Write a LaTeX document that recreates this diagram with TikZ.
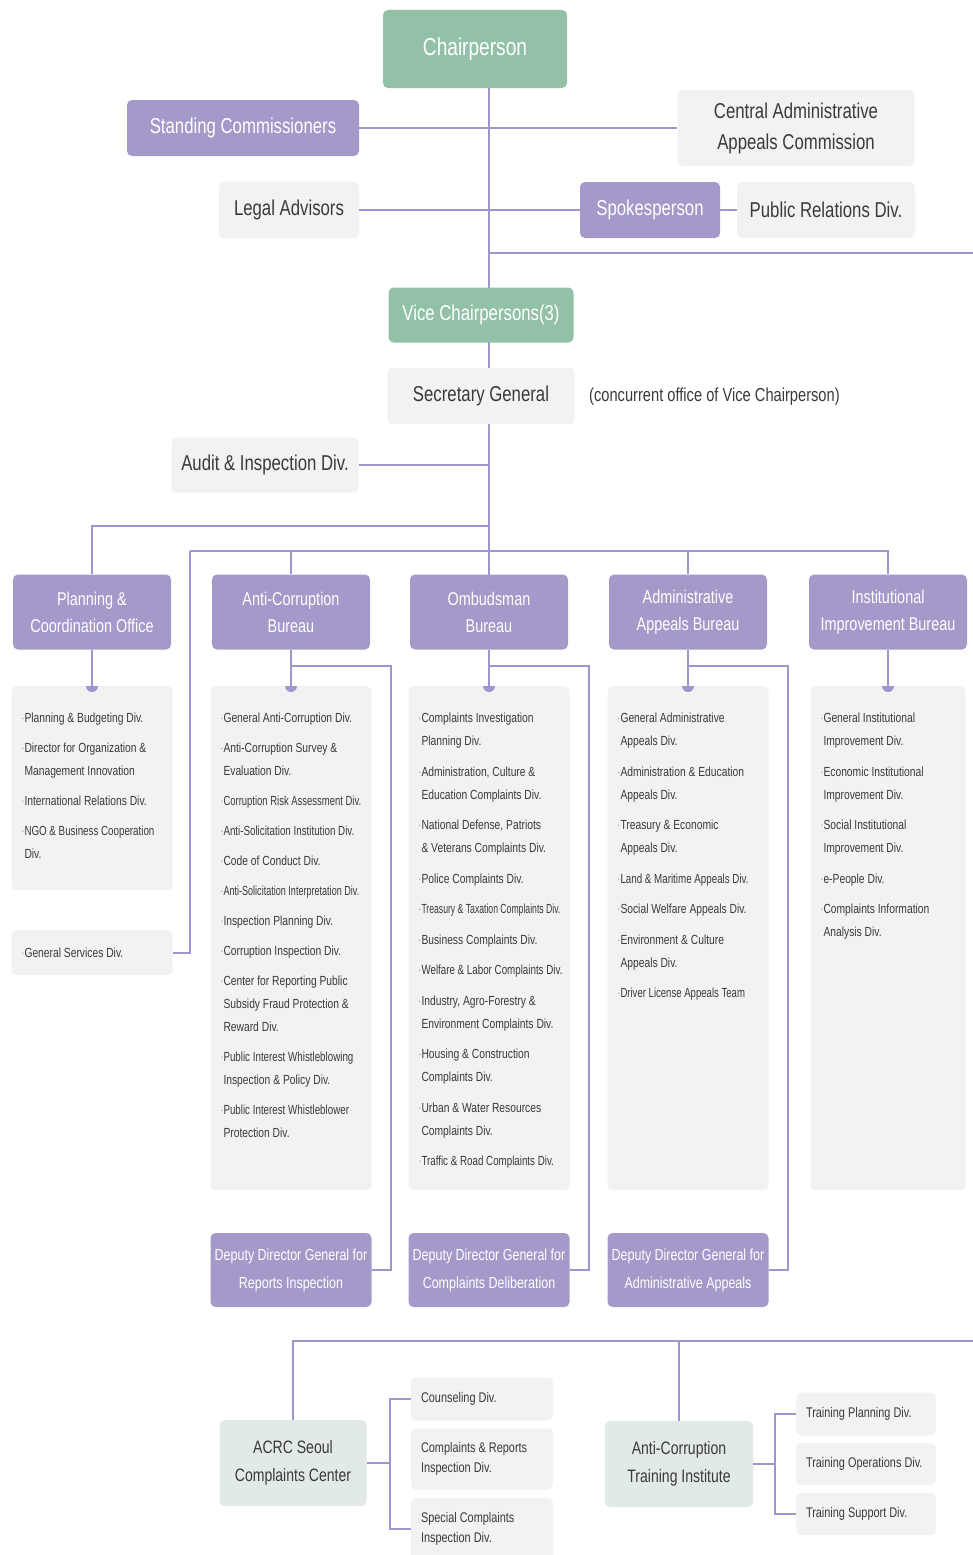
\documentclass[tikz,border=0pt]{standalone}
\usepackage{fontspec}
\setmainfont{Liberation Sans}[FakeStretch=0.78]
\usepackage{xcolor}
\usepackage{tikz}
\usetikzlibrary{positioning}
\definecolor{acrcpurple}{RGB}{164,153,201}
\definecolor{acrcgreen}{RGB}{147,193,167}
\definecolor{acrcpale}{RGB}{225,234,228}
\definecolor{acrcgrey}{RGB}{242,242,242}
\definecolor{acrcline}{RGB}{160,150,205}
\definecolor{acrctext}{RGB}{58,58,58}
\newcommand{\divdot}{\llap{\textcolor{acrcline}{\textperiodcentered}}}
\newcommand{\squeeze}[2]{\scalebox{#1}[1]{#2}}

\begin{document}
\begin{tikzpicture}[x=1pt, y=1pt,
    box/.style={rectangle, rounded corners=5pt, inner sep=0pt, align=center},
    topbox/.style={box, fill=acrcgreen, text=white},
    headbox/.style={box, fill=acrcpurple, text=white},
    greybox/.style={box, fill=acrcgrey, text=acrctext},
    palebox/.style={box, fill=acrcpale, text=acrctext},
    subbox/.style={greybox, align=flush left, font=\fontsize{14}{20}\selectfont},
    listtext/.style={anchor=north west, inner sep=0pt, align=left, text=acrctext,
        font=\fontsize{13.2}{23}\selectfont},
    conn/.style={draw=acrcline, line width=1.6pt},
    bigfont/.style={font=\fontsize{21.5}{31}\selectfont},
]
    \useasboundingbox[fill=white] (0,0) rectangle (973,-1555);

    % Trunk from the chairperson down to the bureaus
    \coordinate (trunk) at (489,-88);
    \coordinate (split1) at (489,-526);
    \coordinate (split2) at (190,-551);
    \coordinate (rtop) at (973,-253);
    \coordinate (rbot) at (973,-1341);

    % Top level
    \node[topbox, minimum width=184, minimum height=78, font=\fontsize{24.5}{28}\selectfont] (chair) at (475,-49) {Chairperson};
    \node[headbox, bigfont, minimum width=232, minimum height=56] (stand) at (243,-128) {Standing Commissioners};
    \node[greybox, bigfont, minimum width=237, minimum height=76] (caac) at (796,-128) {Central Administrative\\Appeals Commission};
    \node[greybox, bigfont, minimum width=140, minimum height=57] (legal) at (289,-210) {Legal Advisors};
    \node[headbox, bigfont, minimum width=140, minimum height=56] (spoke) at (650,-210) {Spokesperson};
    \node[greybox, bigfont, minimum width=178, minimum height=56] (pr) at (826,-210) {Public Relations Div.};

    \draw[conn] (trunk) -- (split1) -- (trunk |- split2) -- (489,-575);
    \draw[conn] (stand.east) -- (caac.west);
    \draw[conn] (legal.east) -- (spoke.west);
    \draw[conn] (spoke.east) -- (pr.west);
    \draw[conn] (trunk |- rtop) -- (rtop);

    % Vice chairpersons and secretary general
    \node[topbox, bigfont, minimum width=185, minimum height=55] (vice) at (481,-315) {Vice Chairpersons(3)};
    \node[greybox, bigfont, minimum width=187, minimum height=56] (secgen) at (481,-396) {Secretary General};
    \node[anchor=west, inner sep=0pt, text=acrctext, font=\fontsize{18.8}{22}\selectfont] (concur) at (589,-397) {(concurrent office of Vice Chairperson)};
    \node[greybox, bigfont, minimum width=187, minimum height=55] (audit) at (265,-465) {Audit \& Inspection Div.};
    \draw[conn] (audit.east) -- (audit.east -| trunk);

    % Bureaus
    \foreach \bx/\bn/\bt in {92/pco/{Planning \&\\Coordination Office},
                             291/acb/{Anti-Corruption\\Bureau},
                             489/omb/{Ombudsman\\Bureau},
                             688/aab/{Administrative\\Appeals Bureau},
                             888/iib/{Institutional\\Improvement Bureau}} {
        \node[headbox, minimum width=158, minimum height=75, font=\fontsize{18.5}{27}\selectfont] (\bn) at (\bx,-612) {\bt};
    }
    \draw[conn] (split1) -| (pco.north);
    \draw[conn] (split2) -| (iib.north);
    \draw[conn] (acb.north) -- (acb.north |- split2);
    \draw[conn] (aab.north) -- (aab.north |- split2);

    % Division lists
    \node[greybox, minimum width=161, minimum height=204, anchor=north] (pco-l) at (92,-686) {};
    \node[greybox, minimum width=161, minimum height=504, anchor=north] (acb-l) at (291,-686) {};
    \node[greybox, minimum width=161, minimum height=504, anchor=north] (omb-l) at (489,-686) {};
    \node[greybox, minimum width=161, minimum height=504, anchor=north] (aab-l) at (688,-686) {};
    \node[greybox, minimum width=155, minimum height=504, anchor=north] (iib-l) at (888,-686) {};
    \node[greybox, minimum width=161, minimum height=45, anchor=north] (gsd) at (92,-930) {};
    \draw[conn] (split2) |- (gsd.east);

    \foreach \b in {pco,acb,omb,aab,iib} {
        \draw[conn] (\b.south) -- (\b-l.north);
        \fill[acrcline] ([xshift=-6]\b-l.north) arc[start angle=180, end angle=360, radius=6];
    }

    \node[listtext] (pco-t) at ([xshift=13,yshift=-27]pco-l.north west) {%
        \divdot Planning \& Budgeting Div.\\[7pt]
        \divdot Director for Organization \&\\Management Innovation\\[7pt]
        \divdot International Relations Div.\\[7pt]
        \divdot \squeeze{0.95}{NGO \& Business Cooperation}\\Div.};
    \node[listtext] (gsd-t) at ([xshift=13]gsd.west) [anchor=west] {\divdot General Services Div.};
    \node[listtext] (acb-t) at ([xshift=13,yshift=-27]acb-l.north west) {%
        \divdot General Anti-Corruption Div.\\[7pt]
        \divdot Anti-Corruption Survey \&\\Evaluation Div.\\[7pt]
        \divdot \squeeze{0.92}{Corruption Risk Assessment Div.}\\[7pt]
        \divdot \squeeze{0.95}{Anti-Solicitation Institution Div.}\\[7pt]
        \divdot Code of Conduct Div.\\[7pt]
        \divdot \squeeze{0.88}{Anti-Solicitation Interpretation Div.}\\[7pt]
        \divdot Inspection Planning Div.\\[7pt]
        \divdot Corruption Inspection Div.\\[7pt]
        \divdot Center for Reporting Public\\Subsidy Fraud Protection \&\\Reward Div.\\[7pt]
        \divdot \squeeze{0.95}{Public Interest Whistleblowing}\\Inspection \& Policy Div.\\[7pt]
        \divdot \squeeze{0.95}{Public Interest Whistleblower}\\Protection Div.};
    \node[listtext] (omb-t) at ([xshift=13,yshift=-27]omb-l.north west) {%
        \divdot Complaints Investigation\\Planning Div.\\[7.5pt]
        \divdot Administration, Culture \&\\Education Complaints Div.\\[7.5pt]
        \divdot National Defense, Patriots\\\& Veterans Complaints Div.\\[7.5pt]
        \divdot Police Complaints Div.\\[7.5pt]
        \divdot \squeeze{0.84}{Treasury \& Taxation Complaints Div.}\\[7.5pt]
        \divdot Business Complaints Div.\\[7.5pt]
        \divdot \squeeze{0.95}{Welfare \& Labor Complaints Div.}\\[7.5pt]
        \divdot Industry, Agro-Forestry \&\\Environment Complaints Div.\\[7.5pt]
        \divdot Housing \& Construction\\Complaints Div.\\[7.5pt]
        \divdot Urban \& Water Resources\\Complaints Div.\\[7.5pt]
        \divdot \squeeze{0.95}{Traffic \& Road Complaints Div.}};
    \node[listtext] (aab-t) at ([xshift=13,yshift=-27]aab-l.north west) {%
        \divdot General Administrative\\Appeals Div.\\[7.5pt]
        \divdot Administration \& Education\\Appeals Div.\\[7.5pt]
        \divdot Treasury \& Economic\\Appeals Div.\\[7.5pt]
        \divdot \squeeze{0.95}{Land \& Maritime Appeals Div.}\\[7.5pt]
        \divdot Social Welfare Appeals Div.\\[7.5pt]
        \divdot Environment \& Culture\\Appeals Div.\\[7.5pt]
        \divdot \squeeze{0.93}{Driver License Appeals Team}};
    \node[listtext] (iib-t) at ([xshift=13,yshift=-27]iib-l.north west) {%
        \divdot General Institutional\\Improvement Div.\\[7.5pt]
        \divdot Economic Institutional\\Improvement Div.\\[7.5pt]
        \divdot Social Institutional\\Improvement Div.\\[7.5pt]
        \divdot e-People Div.\\[7.5pt]
        \divdot Complaints Information\\Analysis Div.};

    % Deputy directors general
    \foreach \bx/\bn/\bt in {291/acb/{Deputy Director General for\\Reports Inspection},
                             489/omb/{Deputy Director General for\\Complaints Deliberation},
                             688/aab/{Deputy Director General for\\Administrative Appeals}} {
        \node[headbox, minimum width=161, minimum height=74, font=\fontsize{16}{28}\selectfont] (\bn-d) at (\bx,-1270) {\bt};
        \draw[conn] (\bn.south |- 0,-666) -| ([xshift=19]\bn-d.east) -- (\bn-d.east);
    }

    % Affiliated organizations
    \node[palebox, minimum width=147, minimum height=86, font=\fontsize{18}{28}\selectfont] (seoul) at (293,-1463) {ACRC Seoul\\Complaints Center};
    \node[palebox, minimum width=148, minimum height=86, font=\fontsize{18}{28}\selectfont] (train) at (679,-1464) {Anti-Corruption\\Training Institute};
    \draw[conn] (seoul.north) -- (seoul.north |- rbot) -- (rbot);
    \draw[conn] (train.north) -- (train.north |- rbot);

    \node[subbox, minimum width=142, minimum height=43, text width=122] (couns) at (482,-1399) {Counseling Div.};
    \node[subbox, minimum width=142, minimum height=61, text width=122] (crid) at (482,-1459) {Complaints \& Reports\\Inspection Div.};
    \node[subbox, minimum width=142, minimum height=62, text width=122] (scid) at (482,-1529) {Special Complaints\\Inspection Div.};
    \draw[conn] (couns.west) -- ++(-21,0) coordinate (sbr) |- (scid.west);
    \draw[conn] (seoul.east) -- (seoul.east -| sbr);

    \node[subbox, minimum width=140, minimum height=43, text width=120] (tpd) at (866,-1414) {Training Planning Div.};
    \node[subbox, minimum width=140, minimum height=42, text width=120] (tod) at (866,-1464) {Training Operations Div.};
    \node[subbox, minimum width=140, minimum height=42, text width=120] (tsd) at (866,-1514) {Training Support Div.};
    \draw[conn] (tpd.west) -- ++(-21,0) coordinate (tbr) |- (tsd.west);
    \draw[conn] (train.east) -- (train.east -| tbr);
\end{tikzpicture}
\end{document}
